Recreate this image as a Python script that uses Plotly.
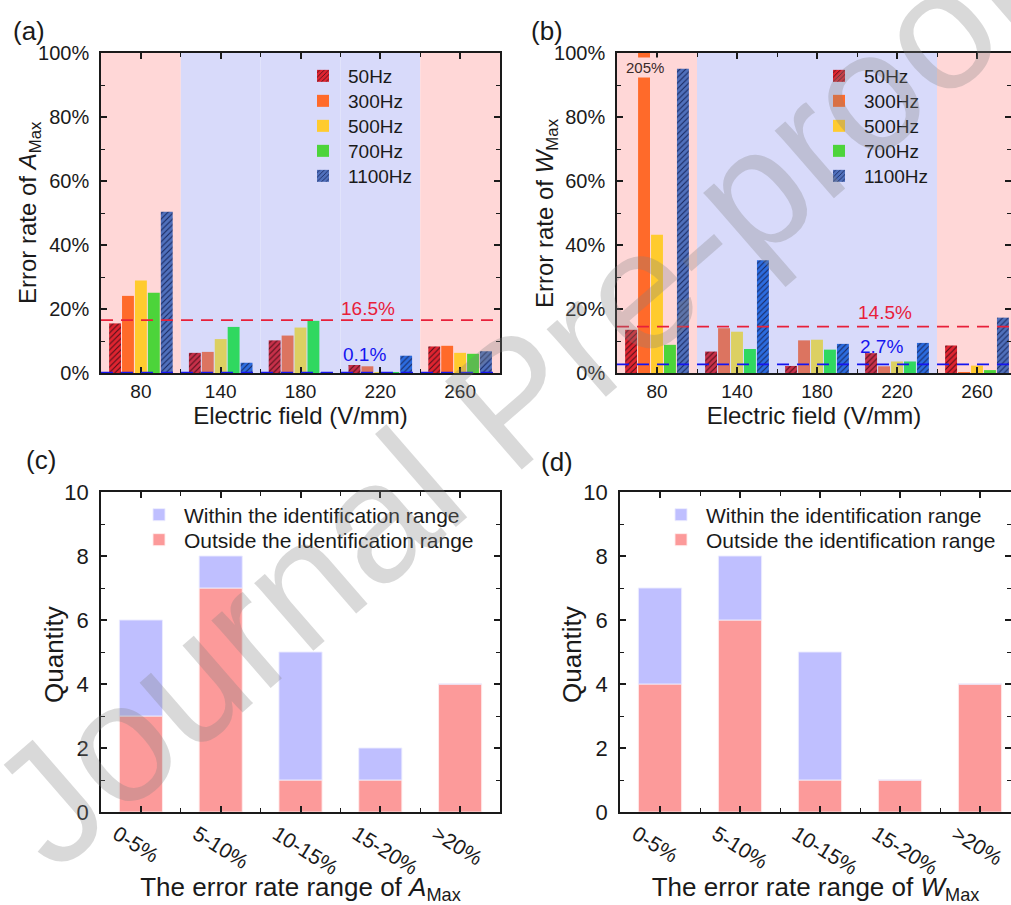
import numpy as np
import plotly.graph_objects as go

W, H = 1011, 905
FONT = "Arial, Liberation Sans, sans-serif"
INK = "#1a1a1a"

# ---- data -----------------------------------------------------------------
fields = ["80", "140", "180", "220", "260"]          # electric field (V/mm)
freqs = ["50Hz", "300Hz", "500Hz", "700Hz", "1100Hz"]
in_range = [False, True, True, True, False]           # identification range

# error rate of A_Max (%)
a_50 = [15.5, 6.3, 10.2, 2.5, 8.3]
a_300 = [24.1, 6.6, 11.7, 2.1, 8.5]
a_500 = [28.9, 10.6, 14.2, 0.2, 6.3]
a_700 = [25.1, 14.4, 16.3, 0.3, 6.0]
a_1100 = [50.4, 3.2, 0.1, 5.4, 6.8]

# error rate of W_Max (%)
w_50 = [13.5, 6.7, 2.2, 6.2, 8.6]
w_300 = [205, 14.0, 10.2, 2.1, 0.3]
w_500 = [43.2, 12.9, 10.4, 3.6, 2.3]
w_700 = [8.8, 7.5, 7.3, 3.6, 0.9]
w_1100 = [95.1, 35.2, 9.1, 9.4, 17.3]

a_red_line, a_blue_line = 16.5, 0.1
w_red_line, w_blue_line = 14.5, 2.7

# histogram of error-rate ranges
ranges = ["0-5%", "5-10%", "10-15%", "15-20%", ">20%"]
c_outside = [3, 7, 1, 1, 4]
c_within = [3, 1, 4, 1, 0]
d_outside = [4, 6, 1, 1, 4]
d_within = [3, 2, 4, 0, 0]

# ---- styling ----------------------------------------------------------------
PINK_BG = "#FFD7D7"
BLUE_BG = "#D8DAFA"
col_out = {"50Hz": "#E02430", "300Hz": "#FF6A2A", "500Hz": "#FFCB2E",
           "700Hz": "#4CD43A", "1100Hz": "#5070BC"}
col_in = {"50Hz": "#C8304A", "300Hz": "#DC7460", "500Hz": "#DCD062",
          "700Hz": "#30D860", "1100Hz": "#2C6CE0"}
hatch = {"50Hz": "#50101A", "1100Hz": "#1A2A62"}
RED_LINE = "#E8203A"
BLUE_LINE = "#1515F0"
WITHIN_C = "#BFBFFF"
OUTSIDE_C = "#FC9A9A"


def fx(px):
    return px / W


def fy(py):
    return 1 - py / H


pos = np.arange(len(fields))
rpos = np.arange(len(ranges))

fig = go.Figure()
legends = {}
n_leg = [0]


def new_legend(x_px, y_px, size):
    n_leg[0] += 1
    key = "legend" if n_leg[0] == 1 else f"legend{n_leg[0]}"
    legends[key] = dict(x=fx(x_px), y=fy(y_px), xanchor="left", yanchor="middle",
                        bgcolor="rgba(0,0,0,0)", itemwidth=40, borderwidth=0,
                        font=dict(size=size, color=INK, family=FONT))
    return key


leg_rows = [76, 101, 126, 151, 176]
panels_top = [("x", "y", 298, [a_50, a_300, a_500, a_700, a_1100]),
              ("x2", "y2", 814, [w_50, w_300, w_500, w_700, w_1100])]
for xa, ya, lx, series in panels_top:
    for name, vals, ly in zip(freqs, series, leg_rows):
        cols = [col_in[name] if z else col_out[name] for z in in_range]
        if name in hatch:
            # scalar marker colour so the per-bar pattern colours are honoured
            marker = dict(color=col_in[name], line=dict(width=0),
                          pattern=dict(shape="/", fillmode="replace", bgcolor=cols,
                                       fgcolor=hatch[name], size=4, solidity=0.28))
        else:
            marker = dict(color=cols, line=dict(width=0))
        fig.add_trace(go.Bar(x=pos, y=vals, name=name, xaxis=xa, yaxis=ya,
                             legend=new_legend(lx, ly, 19), marker=marker))

for xa, ya, lx, outside, within in [("x3", "y3", 134, c_outside, c_within),
                                    ("x4", "y4", 656, d_outside, d_within)]:
    fig.add_trace(go.Bar(x=rpos, y=outside, name="Outside the identification range",
                         xaxis=xa, yaxis=ya, legend=new_legend(lx, 540, 21),
                         offsetgroup="h", width=0.54, offset=-0.27,
                         marker=dict(color=OUTSIDE_C,
                                     line=dict(width=1, color="rgba(255,235,235,0.9)"))))
    fig.add_trace(go.Bar(x=rpos, y=within, base=outside,
                         name="Within the identification range",
                         xaxis=xa, yaxis=ya, legend=new_legend(lx, 515, 21),
                         offsetgroup="h", width=0.54, offset=-0.27,
                         marker=dict(color=WITHIN_C,
                                     line=dict(width=1, color="rgba(235,235,255,0.9)"))))

shapes = []
annotations = []

# background bands and reference lines for (a) and (b)
for xa, ya, red_v, blue_v, red_shift in [("x", "y", a_red_line, a_blue_line, 12),
                                         ("x2", "y2", w_red_line, w_blue_line, 14)]:
    for i, z in enumerate(in_range):
        shapes.append(dict(type="rect", xref=xa, yref=f"{ya} domain",
                           x0=i - 0.5, x1=i + 0.5, y0=0, y1=1,
                           fillcolor=BLUE_BG if z else PINK_BG,
                           line=dict(width=0), layer="below"))
    for v, c in [(red_v, RED_LINE), (blue_v, BLUE_LINE)]:
        shapes.append(dict(type="line", xref=f"{xa} domain", yref=ya,
                           x0=0, x1=1, y0=v, y1=v, layer="above",
                           line=dict(color=c, width=1.8, dash="12px,8px")))
    annotations.append(dict(xref=xa, yref=ya, x=2.85, y=red_v, yshift=red_shift,
                            text=f"{red_v:g}%", showarrow=False,
                            font=dict(size=19, color=RED_LINE, family=FONT)))
    annotations.append(dict(xref=xa, yref=ya, x=2.8, y=blue_v, yshift=18,
                            text=f"{blue_v:g}%", showarrow=False,
                            font=dict(size=19, color=BLUE_LINE, family=FONT)))

# value label for the clipped 300Hz bar in (b)
annotations.append(dict(xref="x2", yref="y2", x=-0.15, y=95.5,
                        text=f"{w_300[0]:g}%", showarrow=False,
                        bgcolor=PINK_BG, borderpad=1,
                        font=dict(size=15, color="#3a2a2a", family=FONT)))

# panel letters
for lbl, x, y in [("(a)", 29, 31), ("(b)", 547, 31), ("(c)", 41, 460), ("(d)", 557, 462)]:
    annotations.append(dict(xref="paper", yref="paper", x=fx(x), y=fy(y),
                            xanchor="center", yanchor="middle",
                            text=lbl, showarrow=False,
                            font=dict(size=26, color=INK, family=FONT)))

# vertical axis titles
for txt, x, y, size in [("Error rate of <i>A</i><sub>Max</sub>", 29, 213, 24),
                        ("Error rate of <i>W</i><sub>Max</sub>", 546, 213, 24),
                        ("Quantity", 54, 655, 26),
                        ("Quantity", 572, 655, 26)]:
    annotations.append(dict(xref="paper", yref="paper", x=fx(x), y=fy(y),
                            xanchor="center", yanchor="middle", textangle=-90,
                            text=txt, showarrow=False,
                            font=dict(size=size, color=INK, family=FONT)))

# journal watermark
annotations.append(dict(xref="paper", yref="paper", x=fx(512), y=fy(400),
                        xanchor="center", yanchor="middle",
                        text="Journal Pre-proof", showarrow=False, textangle=-41,
                        font=dict(size=170, color="rgba(128,128,128,0.3)", family=FONT)))

axis_common = dict(showline=True, linecolor=INK, linewidth=1.6, mirror="ticks",
                   ticks="inside", ticklen=6, tickwidth=1.5, tickcolor=INK,
                   showgrid=False, zeroline=False, automargin=False,
                   ticklabeloverflow="allow")


def xcat(domain, rng, anchor, labels, title, tickfont=19, angle=0, standoff=6,
         shift=0, tsize=24):
    return dict(axis_common, domain=domain, range=rng, anchor=anchor,
                tickmode="array", tickvals=list(range(len(labels))), ticktext=labels,
                tickangle=angle, ticklabelshift=shift,
                tickfont=dict(size=tickfont, color=INK, family=FONT),
                minor=dict(tickmode="linear", tick0=0.5, dtick=1, ticks="inside",
                           ticklen=4, tickwidth=1.3, tickcolor=INK),
                title=dict(text=title, standoff=standoff,
                           font=dict(size=tsize, color=INK, family=FONT)))


def yax(domain, rng, anchor, dtick, mdtick, suffix, tickfont=20):
    return dict(axis_common, domain=domain, range=rng, anchor=anchor,
                dtick=dtick, tick0=0, ticksuffix=suffix, ticklabelstandoff=6,
                tickfont=dict(size=tickfont, color=INK, family=FONT),
                minor=dict(dtick=mdtick, ticks="inside", ticklen=4, tickwidth=1.3,
                           tickcolor=INK))


top_dom = [fy(373), fy(53)]
bot_dom = [fy(812), fy(492)]

fig.update_layout(
    template="none",
    width=W, height=H,
    margin=dict(l=0, r=0, t=0, b=0, pad=0),
    paper_bgcolor="white", plot_bgcolor="white",
    font=dict(family=FONT, color=INK),
    showlegend=True,
    barmode="group", bargap=0.19, bargroupgap=0.08,
    xaxis=xcat([fx(101), fx(500)], [-0.5, 4.5], "y", fields, "Electric field (V/mm)"),
    xaxis2=xcat([fx(617), 1.0], [-0.5, -0.5 + (W - 617) / 80], "y2", fields,
                "Electric field (V/mm)"),
    xaxis3=xcat([fx(101), fx(500)], [-0.5, 4.5], "y3", ranges,
                "The error rate range of <i>A</i><sub>Max</sub>", tickfont=21, angle=32,
                standoff=2, shift=-24, tsize=26),
    xaxis4=xcat([fx(620), 1.0], [-0.5, -0.5 + (W - 620) / 80], "y4", ranges,
                "The error rate range of <i>W</i><sub>Max</sub>", tickfont=21, angle=32,
                standoff=2, shift=-24, tsize=26),
    yaxis=yax(top_dom, [0, 100], "x", 20, 10, "%"),
    yaxis2=yax(top_dom, [0, 100], "x2", 20, 10, "%"),
    yaxis3=yax(bot_dom, [0, 10], "x3", 2, 1, "", tickfont=22),
    yaxis4=yax(bot_dom, [0, 10], "x4", 2, 1, "", tickfont=22),
    shapes=shapes,
    annotations=annotations,
    **legends,
)

fig.write_html("out.html")
